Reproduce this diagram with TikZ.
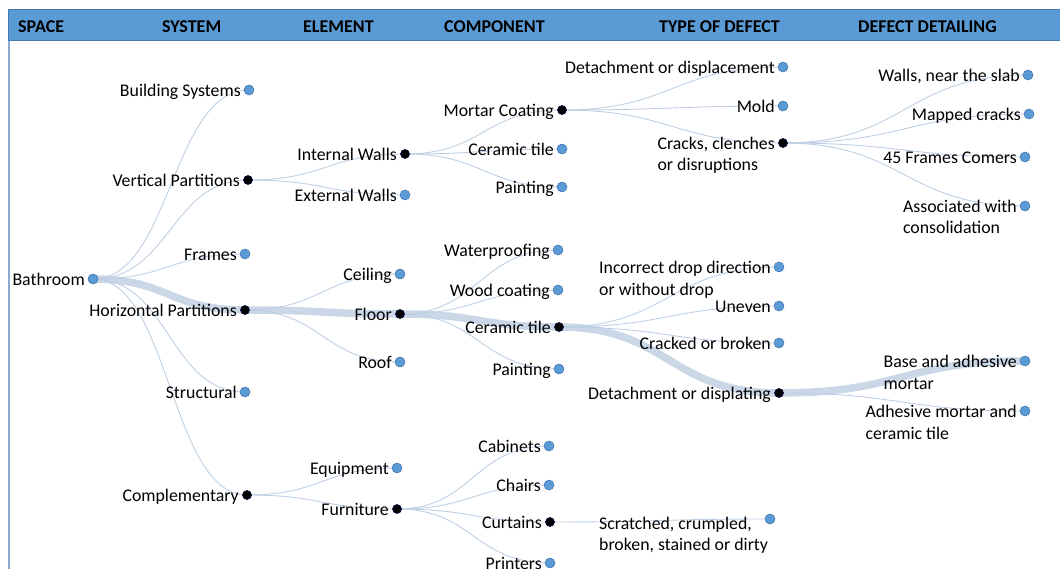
\documentclass[tikz,border=0pt]{standalone}
\usepackage{fontspec}
\setmainfont{Carlito}
\usetikzlibrary{calc, positioning, backgrounds}

\definecolor{headblue}{RGB}{91,155,213}
\definecolor{headedge}{RGB}{70,120,170}
\definecolor{frameblue}{RGB}{140,170,210}
\definecolor{dotblue}{RGB}{91,155,213}
\definecolor{dotedge}{RGB}{60,110,168}
\definecolor{linkblue}{RGB}{190,207,228}
\definecolor{pathblue}{RGB}{201,215,231}

\begin{document}
\begin{tikzpicture}[
    x=1pt, y=-1pt,
    leaf/.style={
        circle,
        fill=dotblue,
        draw=dotedge,
        line width=0.5pt,
        minimum size=10pt,
        inner sep=0pt
    },
    branch/.style={
        circle,
        fill=black,
        draw=black!75!blue,
        line width=0.6pt,
        minimum size=9pt,
        inner sep=0pt
    },
    lbl/.style={
        font=\fontsize{17.8}{21.5}\selectfont,
        anchor=base east,
        align=left,
        inner sep=0pt,
        xshift=-8pt,
        yshift=-6.5pt
    },
    % two-line labels sit on the baseline of their second line
    lbltwo/.style={lbl, yshift=-21.5pt},
    colhead/.style={
        font=\bfseries\fontsize{18}{21}\selectfont,
        anchor=base west,
        inner sep=0pt
    },
    diag/.style={
        to path={let \p1=(\tikztostart), \p2=(\tikztotarget) in
            .. controls ({(\x1+\x2)/2},\y1) and ({(\x1+\x2)/2},\y2) .. (\tikztotarget)}
    },
    link/.style={draw=linkblue, line width=0.9pt, diag},
    hotlink/.style={draw=pathblue, line width=7.5pt, diag}
]
\useasboundingbox (0,0) rectangle (1060,569);

% header bar and left rule
\fill[headblue] (8,9) rectangle (1060,41);
\draw[headedge, line width=1.2pt] (1060,9.5) -- (8.5,9.5) -- (8.5,40.5) -- (1060,40.5);
\draw[frameblue, line width=1.5pt] (9,41) -- (9,569);

\foreach \x/\t in {18/SPACE, 162/SYSTEM, 303/ELEMENT, 444/COMPONENT,
                   659/TYPE OF DEFECT, 858/DEFECT DETAILING} {
    \node[colhead] (h\x) at (\x,32.5) {\t};
}

% leaves
\foreach \n/\x/\y/\t in {
    bath/93/279/Bathroom,
    bsys/249/90/Building Systems,
    frames/245/254/Frames,
    struct/245/392/Structural,
    extw/405/195/External Walls,
    ceil/400/274/Ceiling,
    roof/400/362/Roof,
    equip/397/468/Equipment,
    wtile/562/149/Ceramic tile,
    wpaint/562/187/Painting,
    waterp/558/250/Waterproofing,
    wood/558/290/Wood coating,
    fpaint/559/369/Painting,
    cab/549/446/Cabinets,
    chairs/549/485/Chairs,
    printers/550/563/Printers,
    detach/783/67/Detachment or displacement,
    mold/783/106/Mold,
    uneven/779/306/Uneven,
    cracked/779/343/Cracked or broken,
    slab/1028/75/{Walls, near the slab},
    mapped/1029/114/Mapped cracks,
    corners/1025/157/45 Frames Comers} {
    \node[leaf] (\n) at (\x,\y) {};
    \node[lbl] (\n-t) at (\n) {\t};
}
\foreach \n/\x/\y/\t in {
    incorr/779/267/{Incorrect drop direction\\or without drop},
    assoc/1025/206/{Associated with\\consolidation},
    base/1025/361/{Base and adhesive\\mortar},
    adhes/1025/411/{Adhesive mortar and\\ceramic tile}} {
    \node[leaf] (\n) at (\x,\y) {};
    \node[lbltwo] (\n-t) at (\n) {\t};
}

% expanded nodes
\foreach \n/\x/\y/\t in {
    vert/248/180/Vertical Partitions,
    horiz/245/310/Horizontal Partitions,
    compl/247/495/Complementary,
    intw/405/154/Internal Walls,
    floor/400/314/Floor,
    furn/397/509/Furniture,
    mortar/562/110/Mortar Coating,
    ftile/559/327/Ceramic tile,
    curt/550/522/Curtains,
    displ/779/393/Detachment or displating} {
    \node[branch] (\n) at (\x,\y) {};
    \node[lbl] (\n-t) at (\n) {\t};
}
\node[branch] (cracks) at (783,143) {};
\node[lbltwo] (cracks-t) at (cracks) {Cracks, clenches\\or disruptions};

\node[leaf] (scratch) at (770,519) {};
\node[lbl, anchor=base west, xshift=0pt, yshift=0pt] (scratch-t) at (607,544)
    {Scratched, crumpled,\\broken, stained or dirty};

\begin{scope}[on background layer]
    \foreach \a/\b in {bath/horiz, horiz/floor, floor/ftile, ftile/displ, displ/base}
        \draw[hotlink] (\a.center) to (\b.center);
    \foreach \a/\b in {
        bath/bsys, bath/vert, bath/frames, bath/struct, bath/compl,
        vert/intw, vert/extw,
        horiz/ceil, horiz/roof,
        compl/equip, compl/furn,
        intw/mortar, intw/wtile, intw/wpaint,
        floor/waterp, floor/wood, floor/fpaint,
        furn/cab, furn/chairs, furn/curt, furn/printers,
        mortar/detach, mortar/mold, mortar/cracks,
        ftile/incorr, ftile/uneven, ftile/cracked,
        curt/scratch,
        cracks/slab, cracks/mapped, cracks/corners, cracks/assoc,
        displ/adhes}
        \draw[link] (\a.center) to (\b.center);
\end{scope}

\end{tikzpicture}
\end{document}
